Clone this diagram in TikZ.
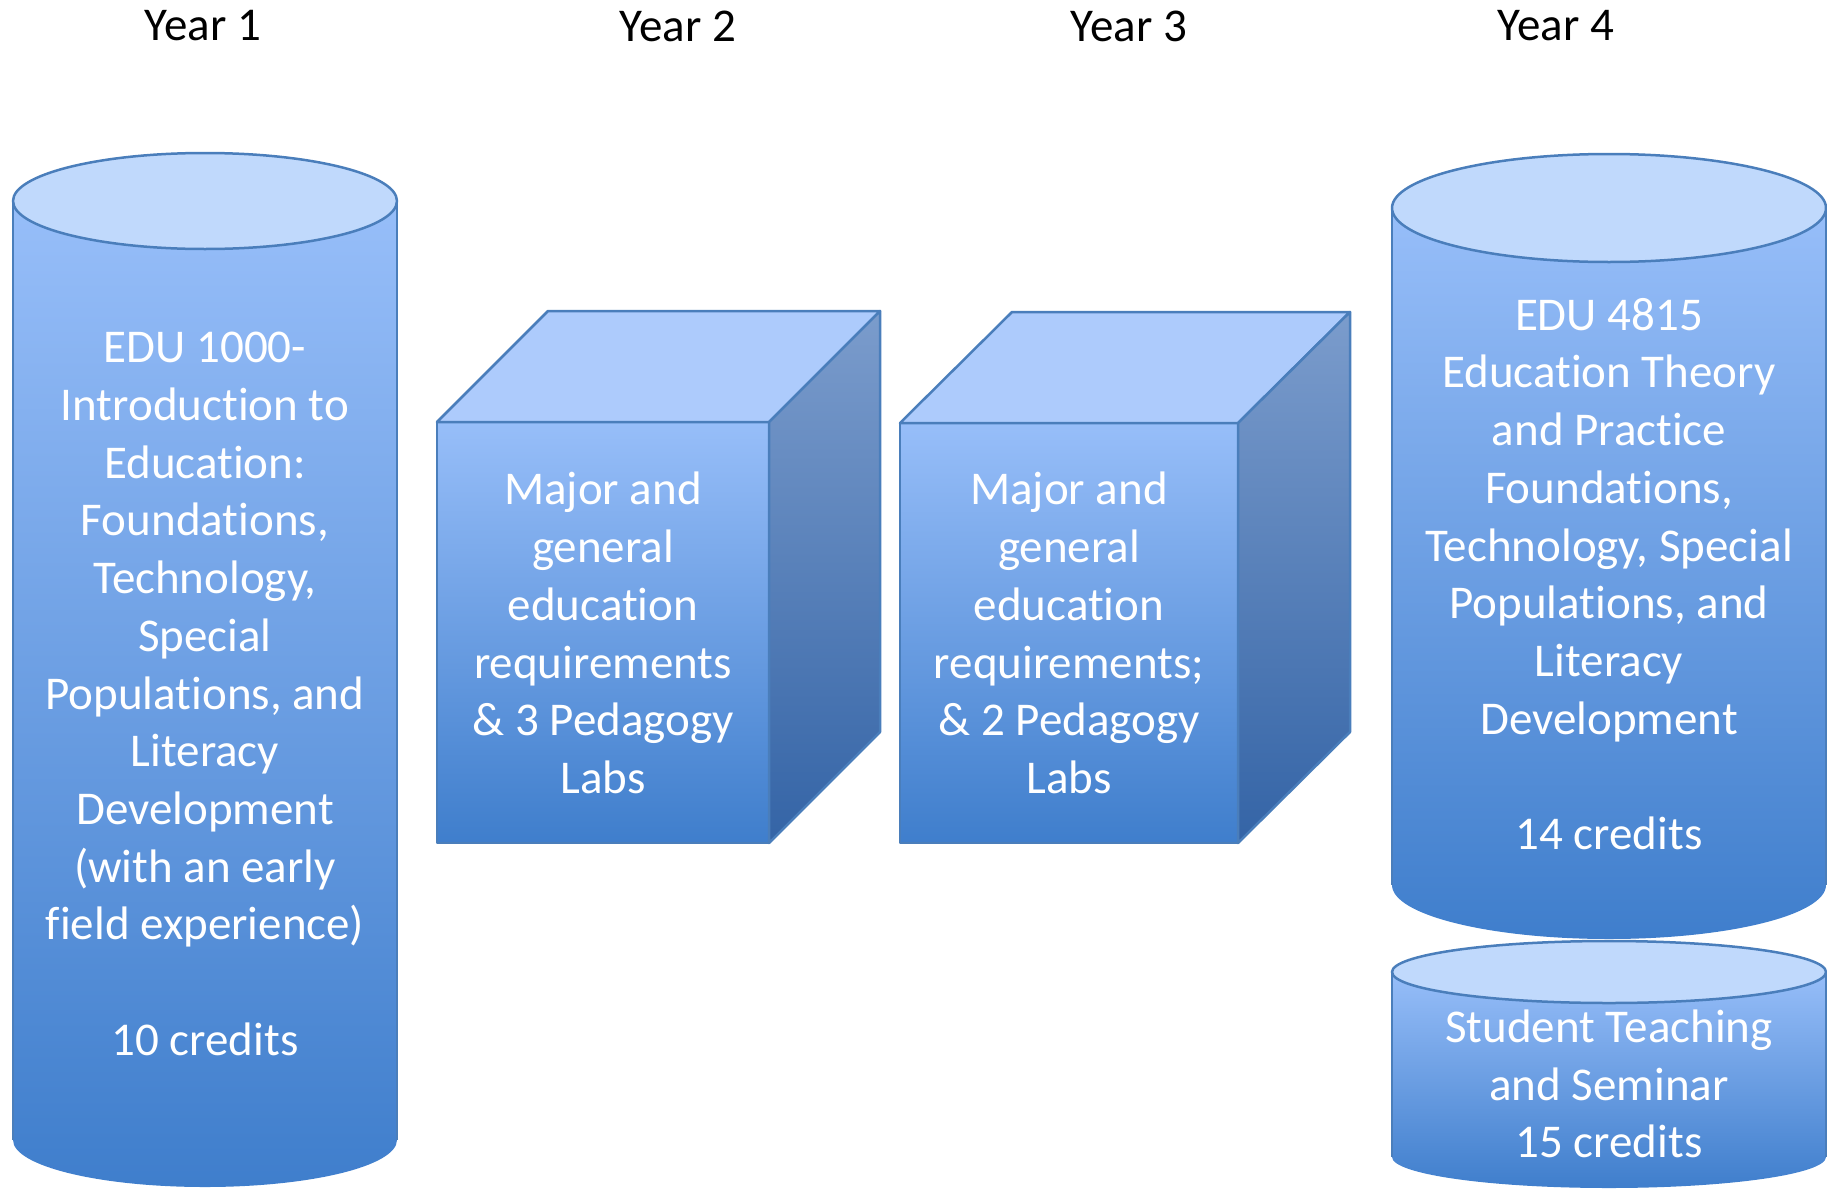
\documentclass[tikz,border=0pt]{standalone}
\usepackage{fontspec}
\setmainfont[Ligatures=NoCommon]{Carlito}
\usepackage{tikz}
\usetikzlibrary{positioning}

\definecolor{lidblue}{HTML}{C0D9FC}
\definecolor{facetop}{HTML}{ADCBFC}
\definecolor{bodytop}{HTML}{97BEF9}
\definecolor{bodybot}{HTML}{3F7ECC}
\definecolor{sidetop}{HTML}{7B9CCC}
\definecolor{sidebot}{HTML}{3464A6}
\definecolor{edgeblue}{HTML}{4A7EBB}

\begin{document}
\begin{tikzpicture}[x=1pt,y=-1pt,
	edge/.style={draw=edgeblue, line width=2.5pt, line join=round},
	body/.style={top color=bodytop, bottom color=bodybot},
	side/.style={top color=sidetop, bottom color=sidebot},
	lid/.style={edge, fill=lidblue},
	txt/.style={text=white, align=center, inner sep=0pt, font=\fontsize{47}{57.7}\selectfont},
	yr/.style={text=black, inner sep=0pt, font=\fontsize{47}{57.7}\selectfont}]
%		\draw [help lines] (0,0) grid[step=100] (1827,1191);
		\useasboundingbox (0,0) rectangle (1827,1191);
		% year 1 cylinder
		\shade [body] (13,201) -- (13,1140) arc [start angle=180, end angle=0, x radius=192, y radius=47] -- (397,201) -- cycle;
		\draw [edge] (13,1140) -- (13,201) (397,201) -- (397,1140);
		\draw [lid] (205,201) ellipse [x radius=192, y radius=48];
		% year 2 box
		\draw [edge, body] (437,422) rectangle (769,843);
		\draw [edge, fill=facetop] (437,422) -- (548,311) -- (880,311) -- (769,422) -- cycle;
		\draw [edge, side] (769,422) -- (880,311) -- (880,732) -- (769,843) -- cycle;
		% year 3 box
		\draw [edge, body] (900,423) rectangle (1238,843);
		\draw [edge, fill=facetop] (900,423) -- (1012,312) -- (1350,312) -- (1238,423) -- cycle;
		\draw [edge, side] (1238,423) -- (1350,312) -- (1350,732) -- (1238,843) -- cycle;
		% year 4 cylinders
		\shade [body] (1392,208) -- (1392,885) arc [start angle=180, end angle=0, x radius=217, y radius=54] -- (1826,208) -- cycle;
		\draw [edge] (1392,885) -- (1392,208) (1826,208) -- (1826,885);
		\draw [lid] (1609,208) ellipse [x radius=217, y radius=54];
		\shade [body] (1392,972) -- (1392,1157) arc [start angle=180, end angle=0, x radius=217, y radius=31] -- (1826,972) -- cycle;
		\draw [edge] (1392,1157) -- (1392,972) (1826,972) -- (1826,1157);
		\draw [lid] (1609,972) ellipse [x radius=217, y radius=31];

		\node [yr] (year1) at (203,26) {Year 1};
		\node [yr] (year2) at (678,26) {Year 2};
		\node [yr] (year3) at (1129,26) {Year 3};
		\node [yr] (year4) at (1556,26) {Year 4};

		\node [txt] (edu1000) at (205,694) {EDU 1000-\\Introduction to\\Education:\\Foundations,\\Technology,\\Special\\Populations, and\\Literacy\\Development\\(with an early\\field experience)\\[57.7pt]10 credits};
		\node [txt] (labsthree) at (603,633) {Major and\\general\\education\\requirements\\\& 3 Pedagogy\\Labs};
		\node [txt] (labstwo) at (1069,633) {Major and\\general\\education\\requirements;\\\& 2 Pedagogy\\Labs};
		\node [txt] (edu4815) at (1609,574) {EDU 4815\\Education Theory\\and Practice\\Foundations,\\Technology, Special\\Populations, and\\Literacy\\Development\\[57.7pt]14 credits};
		\node [txt] (teaching) at (1609,1084) {Student Teaching\\and Seminar\\15 credits};
	\end{tikzpicture}
\end{document}
